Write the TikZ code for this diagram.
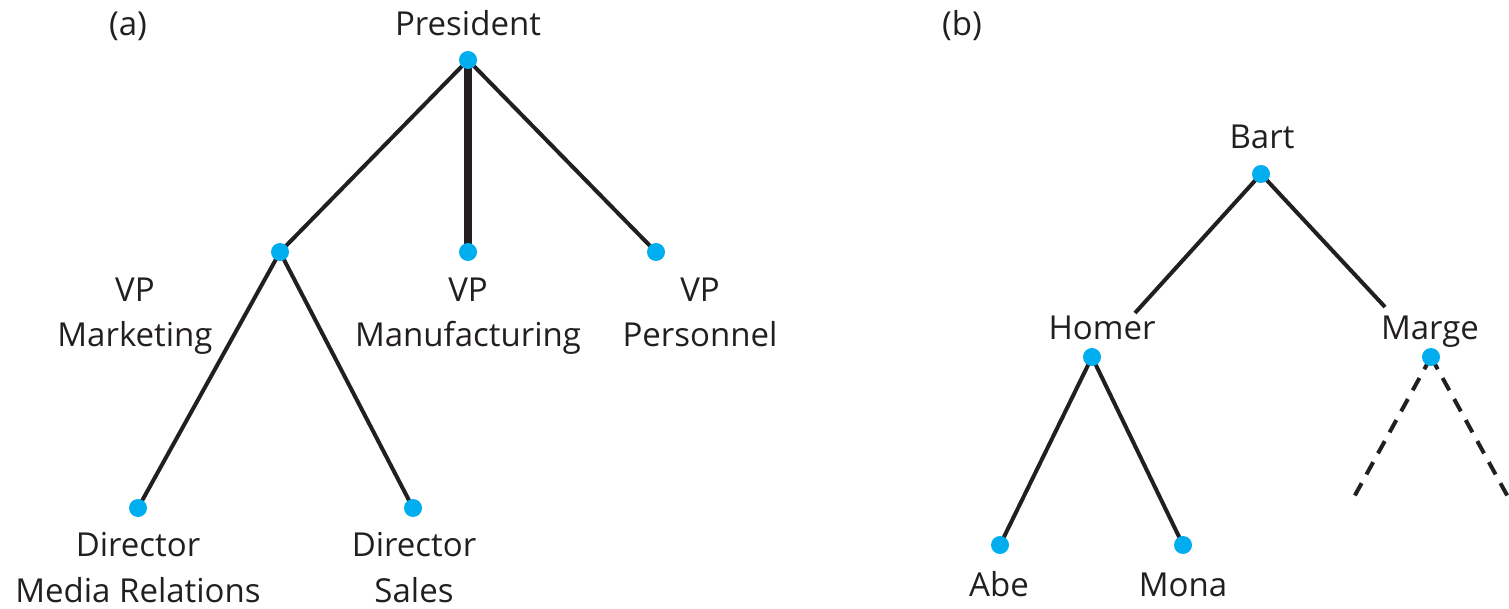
\documentclass[tikz,border=0pt]{standalone}
\usepackage{fontspec}
\setmainfont{Open Sans}
\usetikzlibrary{backgrounds}
\definecolor{dotc}{HTML}{00AEEF}
\definecolor{ink}{HTML}{231F20}
\begin{document}
\begin{tikzpicture}[x=1pt,y=-1pt,
  dot/.style={circle,fill=dotc,inner sep=0pt,minimum size=18pt},
  lbl/.style={align=center,anchor=base,inner sep=0pt,text=ink,font=\fontsize{33}{46}\selectfont},
  edge/.style={draw=ink,line width=4pt},
  thickedge/.style={draw=ink,line width=8pt},
  dashedge/.style={draw=ink,line width=4pt,dash pattern=on 14pt off 10pt}]
\useasboundingbox (0,0) rectangle (1509,609);
% dots
\node[dot] (pres) at (468,60) {};
\node[dot] (vpm) at (280,252) {};
\node[dot] (vpf) at (468,252) {};
\node[dot] (vpp) at (656,252) {};
\node[dot] (dmr) at (138,508) {};
\node[dot] (ds) at (413,508) {};
\node[dot] (bart) at (1261,174) {};
\node[dot] (homer) at (1092,357) {};
\node[dot] (marge) at (1431,357) {};
\node[dot] (abe) at (1000,545) {};
\node[dot] (mona) at (1183,545) {};
\coordinate (hend) at (1135,313);
\coordinate (mend) at (1385,307);
\coordinate (dl) at (1354,497);
\coordinate (dr) at (1508,497);
\begin{scope}[on background layer]
\draw[edge] (pres.center) -- (vpm.center);
\draw[thickedge] (pres.center) -- (vpf.center);
\draw[edge] (pres.center) -- (vpp.center);
\draw[edge] (vpm.center) -- (dmr.center);
\draw[edge] (vpm.center) -- (ds.center);
\draw[edge] (bart.center) -- (hend);
\draw[edge] (bart.center) -- (mend);
\draw[edge] (homer.center) -- (abe.center);
\draw[edge] (homer.center) -- (mona.center);
\draw[dashedge] (marge.center) -- (dl);
\draw[dashedge] (marge.center) -- (dr);
\end{scope}
% labels
\node[lbl] (la) at (128,36) {(a)};
\node[lbl] (lb) at (962,36) {(b)};
\node[lbl] (lpres) at (468,36) {President};
\node[lbl] (lvpm) at (135,347) {VP\\Marketing};
\node[lbl] (lvpf) at (468,347) {VP\\Manufacturing};
\node[lbl] (lvpp) at (700,347) {VP\\Personnel};
\node[lbl] (ldmr) at (138,602) {Director\\Media Relations};
\node[lbl] (lds) at (414,602) {Director\\Sales};
\node[lbl] (lbart) at (1262,149) {Bart};
\node[lbl] (lhomer) at (1102,339) {Homer};
\node[lbl] (lmarge) at (1430,339) {Marge};
\node[lbl] (labe) at (999,596) {Abe};
\node[lbl] (lmona) at (1183,596) {Mona};
\end{tikzpicture}
\end{document}
